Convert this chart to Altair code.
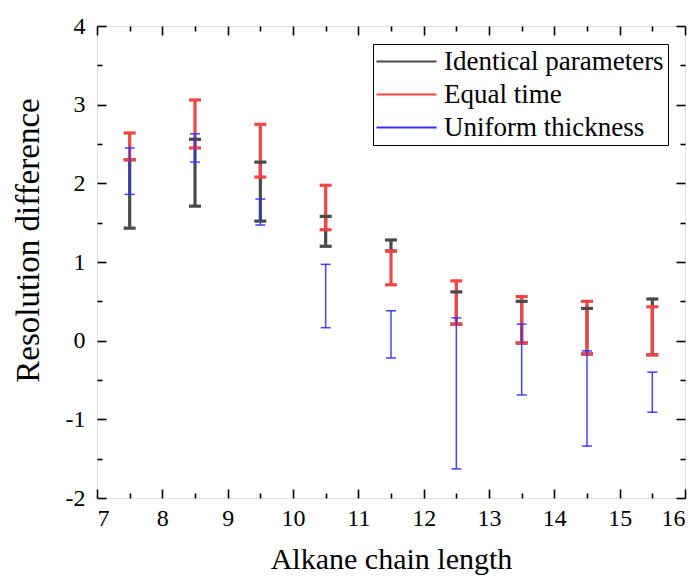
import altair as alt
import pandas as pd

# ---- data ----
chain_x = [7.5, 8.5, 9.5, 10.5, 11.5, 12.5, 13.5, 14.5, 15.5]
identical_low = [1.43, 1.71, 1.52, 1.20, 1.14, 0.21, -0.03, -0.17, -0.18]
identical_high = [2.30, 2.56, 2.27, 1.58, 1.28, 0.62, 0.50, 0.41, 0.53]
equal_low = [2.30, 2.45, 2.08, 1.41, 0.71, 0.21, -0.03, -0.17, -0.18]
equal_high = [2.64, 3.06, 2.75, 1.975, 1.14, 0.76, 0.56, 0.50, 0.43]
uniform_low = [1.86, 2.27, 1.47, 0.165, -0.22, -1.63, -0.69, -1.34, -0.91]
uniform_high = [2.45, 2.63, 1.80, 0.97, 0.38, 0.29, 0.21, -0.13, -0.40]

series_names = ["Identical parameters", "Equal time", "Uniform thickness"]
series_colors = ["#4a4a4a", "#f24545", "#3030ff"]

x_major = [7, 8, 9, 10, 11, 12, 13, 14, 15, 16]
x_minor = [7.5, 8.5, 9.5, 10.5, 11.5, 12.5, 13.5, 14.5, 15.5]
y_major = [-2, -1, 0, 1, 2, 3, 4]
y_minor = [-1.5, -0.5, 0.5, 1.5, 2.5, 3.5]

# ---- tables built from the arrays ----
rows = []
caps = []
for name, lo, hi in zip(series_names,
                        [identical_low, equal_low, uniform_low],
                        [identical_high, equal_high, uniform_high]):
    for x, l, h in zip(chain_x, lo, hi):
        rows.append({"x": x, "series": name, "low": l, "high": h})
        caps.append({"x": x, "series": name, "v": l})
        caps.append({"x": x, "series": name, "v": h})
df = pd.DataFrame(rows)
dcaps = pd.DataFrame(caps)

FONT = "Liberation Serif"
xscale = alt.Scale(domain=[7, 16], nice=False, zero=False)
yscale = alt.Scale(domain=[-2, 4], nice=False, zero=False)
cscale = alt.Scale(domain=series_names, range=series_colors)


def tick_axis(values, orient, size):
    return alt.Axis(values=values, orient=orient, offset=-size, tickSize=size,
                    tickWidth=1.6, tickColor="black", labels=False, domain=False,
                    grid=False, title=None)


x_main_axis = alt.Axis(values=x_major, orient="bottom", ticks=False, domain=False,
                       grid=False, labelFont=FONT, labelFontSize=24, labelColor="black",
                       labelPadding=8, title="Alkane chain length", titleFont=FONT,
                       titleFontSize=30, titleFontWeight="normal", titleColor="black",
                       titlePadding=14)
y_main_axis = alt.Axis(values=y_major, orient="left", ticks=False, domain=False,
                       grid=False, labelFont=FONT, labelFontSize=24, labelColor="black",
                       labelPadding=12, labelExpr="replace(datum.label, '\u2212', '-')",
                       title="Resolution difference", titleFont=FONT, titleFontSize=33,
                       titleFontWeight="normal", titleColor="black",
                       titleX=-69, titleY=214, titleAlign="center",
                       titleBaseline="middle", titleAngle=270)

base = alt.Chart(df)
br = "datum.series != 'Uniform thickness'"
bl = "datum.series == 'Uniform thickness'"

rules_br = base.transform_filter(br).mark_rule(strokeWidth=3.2).encode(
    x=alt.X("x:Q", scale=xscale, axis=x_main_axis),
    y=alt.Y("low:Q", scale=yscale, axis=y_main_axis),
    y2="high:Q",
    color=alt.Color("series:N", scale=cscale, legend=alt.Legend(
        orient="none", legendX=276, legendY=18, title=None,
        symbolType="M-2.8,0H9.2", symbolSize=100, symbolStrokeWidth=2,
        labelFont=FONT, labelFontSize=27, labelColor="black", labelOffset=40,
        labelLimit=400, rowPadding=5, padding=4, strokeColor="black",
        fillColor="white", symbolOpacity=1)),
)

caps_br = alt.Chart(dcaps).transform_filter(br).mark_tick(
    orient="horizontal", size=12, thickness=3.2, opacity=1).encode(
    x=alt.X("x:Q", scale=xscale, axis=tick_axis(x_major, "bottom", 9)),
    y=alt.Y("v:Q", scale=yscale, axis=tick_axis(y_major, "left", 9)),
    color=alt.Color("series:N", scale=cscale, legend=None),
)

rules_bl = base.transform_filter(bl).mark_rule(strokeWidth=1.5, opacity=0.9).encode(
    x=alt.X("x:Q", scale=xscale, axis=tick_axis(x_minor, "bottom", 5)),
    y=alt.Y("low:Q", scale=yscale, axis=tick_axis(y_minor, "left", 5)),
    y2="high:Q",
    color=alt.Color("series:N", scale=cscale, legend=None),
)

caps_bl = alt.Chart(dcaps).transform_filter(bl).mark_tick(
    orient="horizontal", size=10, thickness=1.5, opacity=0.9).encode(
    x=alt.X("x:Q", scale=xscale, axis=tick_axis(x_major, "top", 9)),
    y=alt.Y("v:Q", scale=yscale, axis=tick_axis(y_major, "right", 9)),
    color=alt.Color("series:N", scale=cscale, legend=None),
)

ghost = alt.Chart(dcaps).mark_point(opacity=0).encode(
    x=alt.X("x:Q", scale=xscale, axis=tick_axis(x_minor, "top", 5)),
    y=alt.Y("v:Q", scale=yscale, axis=tick_axis(y_minor, "right", 5)),
)

chart = alt.layer(rules_br, caps_br, rules_bl, caps_bl, ghost).resolve_axis(
    x="independent", y="independent"
).properties(
    width=588, height=472,
    autosize=alt.AutoSizeParams(type="none"),
    padding={"left": 89, "top": 18, "right": 6, "bottom": 77},
).configure_view(stroke="black", strokeWidth=2).configure(background="white")

chart.save("out.html", embed_options={"renderer": "svg", "actions": False})
